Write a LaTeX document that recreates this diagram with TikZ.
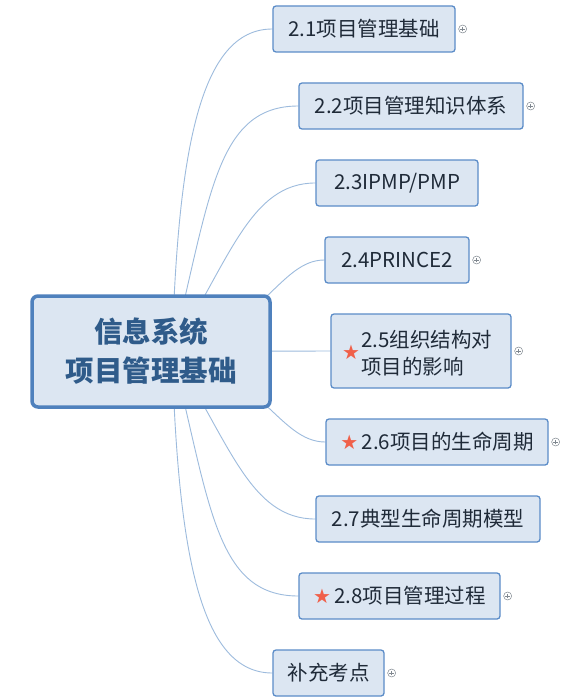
\documentclass[tikz,border=0pt]{standalone}
\usepackage{fontspec}
\newfontfamily\cjk{Noto Sans CJK SC}
\newfontfamily\symfont{DejaVu Sans}
\usetikzlibrary{backgrounds,calc}
\definecolor{boxfill}{HTML}{DCE6F2}
\definecolor{boxline}{HTML}{5B8CC8}
\definecolor{mainline}{HTML}{4F81BD}
\definecolor{maintext}{HTML}{2F5B8A}
\definecolor{leaftext}{HTML}{1F2A38}
\definecolor{connline}{HTML}{9DBBDD}
\definecolor{starred}{HTML}{F0604A}
\definecolor{plusgray}{HTML}{808890}
\newcommand{\redstar}{{\symfont\fontsize{20}{22}\selectfont\color{starred}★}}
\tikzset{
  leaf/.style={draw=boxline, fill=boxfill, line width=1.3pt, rounded corners=3pt,
    minimum height=46pt, inner sep=0pt, text=leaftext, font=\cjk\fontsize{20.5}{24}\selectfont},
  mainbox/.style={draw=mainline, fill=boxfill, line width=3.5pt, rounded corners=6pt,
    minimum width=238pt, minimum height=111pt, inner sep=0pt, align=center,
    text=maintext, font=\cjk\bfseries\fontsize{28.5}{39}\selectfont},
  conn/.style={draw=connline, line width=0.9pt},
  plusicon/.style={circle, draw=plusgray, line width=0.5pt, minimum size=8pt, inner sep=0pt,
    path picture={\draw[plusgray, line width=0.5pt]
      ($(path picture bounding box.center)+(-2.3pt,0pt)$) -- ($(path picture bounding box.center)+(2.3pt,0pt)$)
      ($(path picture bounding box.center)+(0pt,-2.3pt)$) -- ($(path picture bounding box.center)+(0pt,2.3pt)$);}},
}
\begin{document}
\begin{tikzpicture}[x=1pt,y=-1pt]
\useasboundingbox (0,0) rectangle (562,698);
% leaves
\node[leaf, minimum width=182pt] (n21) at (364,29) {2.1项目管理基础};
\node[leaf, minimum width=224pt] (n22) at (411,106) {2.2项目管理知识体系};
\node[leaf, minimum width=162pt] (n23) at (397,183) {2.3IPMP/PMP};
\node[leaf, minimum width=144pt] (n24) at (397,260) {2.4PRINCE2};
\node[leaf, minimum width=180pt, minimum height=74pt] (n25) at (421,351) {};
\node[anchor=west, inner sep=0pt, align=left, text=leaftext, font=\cjk\fontsize{20.5}{27}\selectfont] (t25) at (361,353) {2.5组织结构对\\项目的影响};
\node[inner sep=0pt] (s25) at (351,352) {\redstar};
\node[leaf, minimum width=222pt] (n26) at (437,442) {\redstar\,2.6项目的生命周期};
\node[leaf, minimum width=224pt] (n27) at (428,519) {2.7典型生命周期模型};
\node[leaf, minimum width=201pt] (n28) at (399.5,596) {\redstar\,2.8项目管理过程};
\node[leaf, minimum width=111pt] (n29) at (328.5,673) {补充考点};
% plus icons
\node[plusicon] (p21) at ($(n21.east)+(7,0)$) {};
\node[plusicon] (p22) at ($(n22.east)+(7,0)$) {};
\node[plusicon] (p24) at ($(n24.east)+(7,0)$) {};
\node[plusicon] (p25) at ($(n25.east)+(7,0)$) {};
\node[plusicon] (p26) at ($(n26.east)+(7,0)$) {};
\node[plusicon] (p28) at ($(n28.east)+(7,0)$) {};
\node[plusicon] (p29) at ($(n29.east)+(7,0)$) {};
% central
\node[mainbox] (c) at (151,351.5) {信息系统\\项目管理基础};
\coordinate (hub) at (172,351.5);
\begin{scope}[on background layer]
\fill[white] (0,0) rectangle (562,698);
\draw[conn] (hub) .. controls (178,150) and (200,29) .. (n21.west);
\draw[conn] (hub) .. controls (210,200) and (215,106) .. (n22.west);
\draw[conn] (hub) .. controls (230,260) and (250,183) .. (n23.west);
\draw[conn] (hub) .. controls (262,330) and (280,260) .. (n24.west);
\draw[conn] (hub) -- (n25.west);
\draw[conn] (hub) .. controls (262,373) and (280,442) .. (n26.west);
\draw[conn] (hub) .. controls (230,443) and (250,519) .. (n27.west);
\draw[conn] (hub) .. controls (210,503) and (215,596) .. (n28.west);
\draw[conn] (hub) .. controls (178,553) and (200,673) .. (n29.west);
\end{scope}
\end{tikzpicture}
\end{document}
